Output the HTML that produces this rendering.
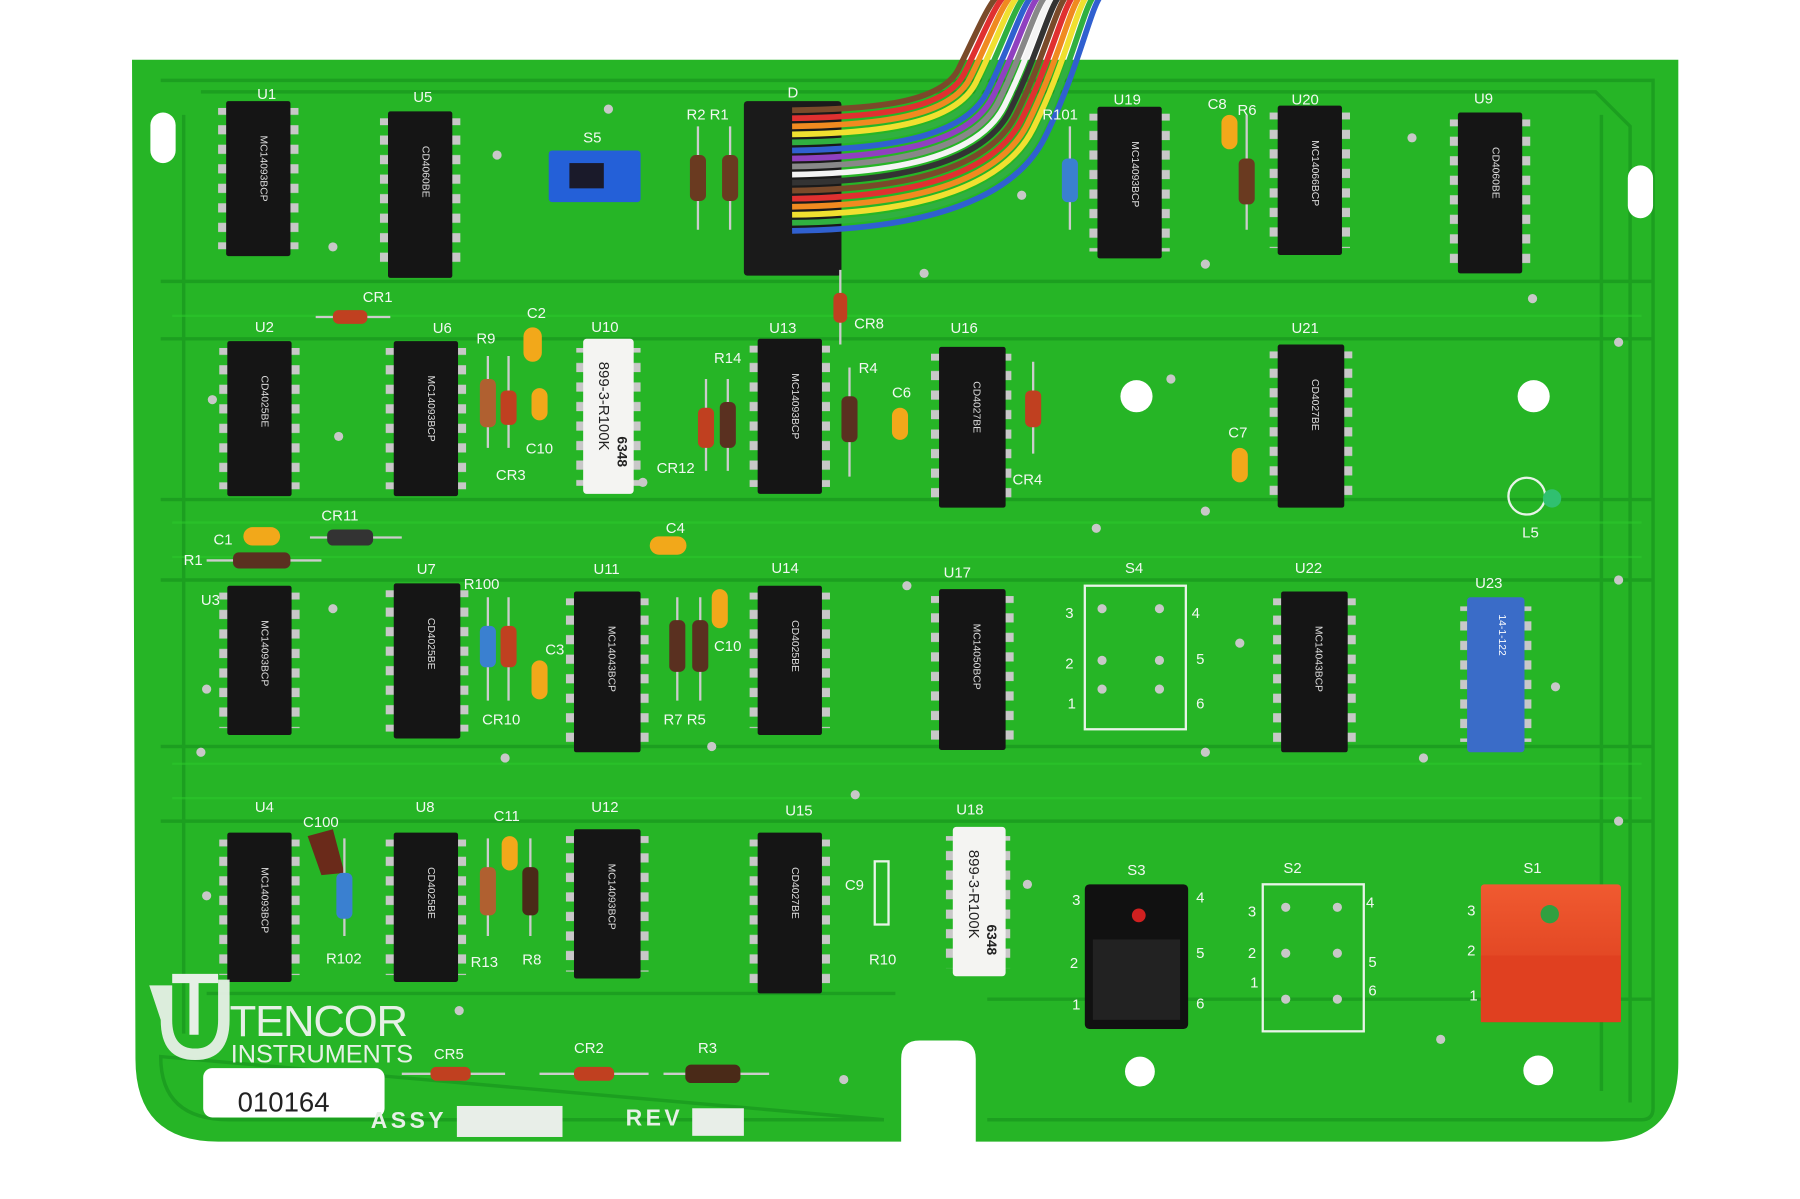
<!DOCTYPE html>
<html><head><meta charset="utf-8"><style>
html,body{margin:0;padding:0;background:#fff;width:1800px;height:1199px;overflow:hidden}
svg{display:block}
text{font-family:"Liberation Sans",sans-serif}
</style></head><body>
<svg width="1800" height="1199" viewBox="0 0 1568 1044" preserveAspectRatio="none" xmlns="http://www.w3.org/2000/svg">
<defs>
<pattern id="pins" patternUnits="userSpaceOnUse" width="10" height="17"><rect x="0" y="4" width="10" height="8" fill="#c8c8c8"/></pattern>
<linearGradient id="red" x1="0" x2="0" y1="0" y2="1"><stop offset="0" stop-color="#f05a30"/><stop offset="1" stop-color="#d8381a"/></linearGradient>
</defs>
<rect width="1568" height="1044" fill="#fff"/>
<!-- board -->
<path d="M115,52 H1462 V925 Q1462,994 1395,994 H850 V922 Q850,906 834,906 H801 Q785,906 785,922 V994 H190 Q118,994 118,922 Z" fill="#26b526"/>
<!-- darker traces -->
<g stroke="#1a9a1f" stroke-width="3" fill="none" opacity="0.8">
<path d="M140,70 H1440 V965 Q1440,975 1430,975 H860 M770,975 H200 Q140,975 140,920 Z"/>
<path d="M140,295 H1440 M140,505 H1440 M140,715 H1440 M140,435 H1440 M140,650 H1440 M140,245 H1440 M180,865 H780 M860,870 H1440"/>
<path d="M175,80 H1390 L1420,110 V960" />
<path d="M160,100 V900 M1395,100 V950"/>
</g>
<g stroke="#2cc82c" stroke-width="2" fill="none" opacity="0.6">
<path d="M150,275 H1430 M150,485 H1430 M150,695 H1430 M150,455 H1430 M150,665 H1430"/>
</g>
<!-- slots and holes -->
<rect x="131" y="98" width="22" height="44" rx="11" fill="#fff"/>
<rect x="1418" y="144" width="22" height="46" rx="11" fill="#fff"/>
<circle cx="990" cy="345" r="14" fill="#fff"/>
<circle cx="1336" cy="345" r="14" fill="#fff"/>
<circle cx="993" cy="933" r="13" fill="#fff"/>
<circle cx="1340" cy="932" r="13" fill="#fff"/>

<!-- chips -->
<g id="chips" font-size="9" fill="#fff">
<g transform="translate(197,88)"><rect x="-7" y="6" width="70" height="123" fill="url(#pins)"/><rect width="56" height="135" fill="#151515" rx="2"/><text transform="translate(30,30) rotate(90)" fill="#ddd">MC14093BCP</text></g>
<g transform="translate(338,97)"><rect x="-7" y="6" width="70" height="133" fill="url(#pins)"/><rect width="56" height="145" fill="#151515" rx="2"/><text transform="translate(30,30) rotate(90)" fill="#ddd">CD4060BE</text></g>
<g transform="translate(956,93)"><rect x="-7" y="6" width="70" height="120" fill="url(#pins)"/><rect width="56" height="132" fill="#151515" rx="2"/><text transform="translate(30,30) rotate(90)" fill="#ddd">MC14093BCP</text></g>
<g transform="translate(1113,92)"><rect x="-7" y="6" width="70" height="118" fill="url(#pins)"/><rect width="56" height="130" fill="#151515" rx="2"/><text transform="translate(30,30) rotate(90)" fill="#ddd">MC14066BCP</text></g>
<g transform="translate(1270,98)"><rect x="-7" y="6" width="70" height="128" fill="url(#pins)"/><rect width="56" height="140" fill="#151515" rx="2"/><text transform="translate(30,30) rotate(90)" fill="#ddd">CD4060BE</text></g>

<g transform="translate(198,297)"><rect x="-7" y="6" width="70" height="123" fill="url(#pins)"/><rect width="56" height="135" fill="#151515" rx="2"/><text transform="translate(30,30) rotate(90)" fill="#ddd">CD4025BE</text></g>
<g transform="translate(343,297)"><rect x="-7" y="6" width="70" height="123" fill="url(#pins)"/><rect width="56" height="135" fill="#151515" rx="2"/><text transform="translate(30,30) rotate(90)" fill="#ddd">MC14093BCP</text></g>
<g transform="translate(660,295)"><rect x="-7" y="6" width="70" height="123" fill="url(#pins)"/><rect width="56" height="135" fill="#151515" rx="2"/><text transform="translate(30,30) rotate(90)" fill="#ddd">MC14093BCP</text></g>
<g transform="translate(818,302)"><rect x="-7" y="6" width="70" height="128" fill="url(#pins)"/><rect width="58" height="140" fill="#151515" rx="2"/><text transform="translate(30,30) rotate(90)" fill="#ddd">CD4027BE</text></g>
<g transform="translate(1113,300)"><rect x="-7" y="6" width="72" height="130" fill="url(#pins)"/><rect width="58" height="142" fill="#151515" rx="2"/><text transform="translate(30,30) rotate(90)" fill="#ddd">CD4027BE</text></g>

<g transform="translate(198,510)"><rect x="-7" y="6" width="70" height="118" fill="url(#pins)"/><rect width="56" height="130" fill="#151515" rx="2"/><text transform="translate(30,30) rotate(90)" fill="#ddd">MC14093BCP</text></g>
<g transform="translate(343,508)"><rect x="-7" y="6" width="72" height="123" fill="url(#pins)"/><rect width="58" height="135" fill="#151515" rx="2"/><text transform="translate(30,30) rotate(90)" fill="#ddd">CD4025BE</text></g>
<g transform="translate(500,515)"><rect x="-7" y="6" width="72" height="128" fill="url(#pins)"/><rect width="58" height="140" fill="#151515" rx="2"/><text transform="translate(30,30) rotate(90)" fill="#ddd">MC14043BCP</text></g>
<g transform="translate(660,510)"><rect x="-7" y="6" width="70" height="118" fill="url(#pins)"/><rect width="56" height="130" fill="#151515" rx="2"/><text transform="translate(30,30) rotate(90)" fill="#ddd">CD4025BE</text></g>
<g transform="translate(818,513)"><rect x="-7" y="6" width="72" height="128" fill="url(#pins)"/><rect width="58" height="140" fill="#151515" rx="2"/><text transform="translate(30,30) rotate(90)" fill="#ddd">MC14050BCP</text></g>
<g transform="translate(1116,515)"><rect x="-7" y="6" width="72" height="128" fill="url(#pins)"/><rect width="58" height="140" fill="#151515" rx="2"/><text transform="translate(30,30) rotate(90)" fill="#ddd">MC14043BCP</text></g>

<g transform="translate(198,725)"><rect x="-7" y="6" width="70" height="118" fill="url(#pins)"/><rect width="56" height="130" fill="#151515" rx="2"/><text transform="translate(30,30) rotate(90)" fill="#ddd">MC14093BCP</text></g>
<g transform="translate(343,725)"><rect x="-7" y="6" width="70" height="118" fill="url(#pins)"/><rect width="56" height="130" fill="#151515" rx="2"/><text transform="translate(30,30) rotate(90)" fill="#ddd">CD4025BE</text></g>
<g transform="translate(500,722)"><rect x="-7" y="6" width="72" height="118" fill="url(#pins)"/><rect width="58" height="130" fill="#151515" rx="2"/><text transform="translate(30,30) rotate(90)" fill="#ddd">MC14093BCP</text></g>
<g transform="translate(660,725)"><rect x="-7" y="6" width="70" height="128" fill="url(#pins)"/><rect width="56" height="140" fill="#151515" rx="2"/><text transform="translate(30,30) rotate(90)" fill="#ddd">CD4027BE</text></g>
</g>
<!-- white SIPs -->
<g transform="translate(508,295)"><rect x="-6" y="8" width="56" height="120" fill="url(#pins)"/><rect width="44" height="135" fill="#f4f4f2" rx="3"/><text transform="translate(14,20) rotate(90)" font-size="13" fill="#222">899-3-R100K</text><text transform="translate(30,85) rotate(90)" font-size="12" fill="#222" font-weight="bold">6348</text></g>
<g transform="translate(830,720)"><rect x="-6" y="8" width="56" height="115" fill="url(#pins)"/><rect width="46" height="130" fill="#f4f4f2" rx="3"/><text transform="translate(14,20) rotate(90)" font-size="13" fill="#222">899-3-R100K</text><text transform="translate(30,85) rotate(90)" font-size="12" fill="#222" font-weight="bold">6348</text></g>
<!-- blue U23 -->
<g transform="translate(1278,520)"><rect x="-6" y="8" width="62" height="118" fill="url(#pins)"/><rect width="50" height="135" fill="#3a6cc8" rx="3"/><text transform="translate(28,15) rotate(90)" font-size="9" fill="#fff">14-1-122</text></g>
<!-- connector D -->
<rect x="648" y="88" width="85" height="152" fill="#1a1a1a" rx="3"/>
<!-- ribbon cable -->
<g fill="none" stroke-width="5">
<path d="M690,96 C760,95 820,90 835,60 S860,5 870,-5" stroke="#7a4a2a"/>
<path d="M690,103 C762,102 824,96 840,64 S866,5 876,-5" stroke="#e03030"/>
<path d="M690,110 C764,109 828,102 845,68 S872,5 882,-5" stroke="#f08a20"/>
<path d="M690,117 C766,116 832,108 850,72 S878,5 888,-5" stroke="#f0e030"/>
<path d="M690,124 C768,123 836,114 855,76 S884,5 894,-5" stroke="#30b040"/>
<path d="M690,131 C770,130 840,120 860,80 S890,5 900,-5" stroke="#3060d0"/>
<path d="M690,138 C772,137 844,126 865,84 S896,5 906,-5" stroke="#9040c0"/>
<path d="M690,145 C774,144 848,132 870,88 S902,5 912,-5" stroke="#888"/>
<path d="M690,152 C776,151 852,138 875,92 S908,5 918,-5" stroke="#f4f4f4"/>
<path d="M690,159 C778,158 856,144 880,96 S914,5 924,-5" stroke="#333"/>
<path d="M690,166 C780,165 860,150 885,100 S920,5 930,-5" stroke="#7a4a2a"/>
<path d="M690,173 C782,172 864,156 890,104 S926,5 936,-5" stroke="#e03030"/>
<path d="M690,180 C784,179 868,162 895,108 S932,5 942,-5" stroke="#f08a20"/>
<path d="M690,187 C786,186 872,168 900,112 S938,5 948,-5" stroke="#f0e030"/>
<path d="M690,194 C788,193 876,174 905,116 S944,5 954,-5" stroke="#30b040"/>
<path d="M690,201 C790,200 880,180 910,120 S950,5 960,-5" stroke="#3060d0"/>
</g>
<!-- S5 -->
<rect x="478" y="131" width="80" height="45" fill="#2460d8" rx="3"/><rect x="496" y="142" width="30" height="22" fill="#1a1a2a"/>
<!-- S4, S2 outlines -->
<rect x="945" y="510" width="88" height="125" fill="none" stroke="#e8f4e8" stroke-width="2"/>
<rect x="1100" y="770" width="88" height="128" fill="none" stroke="#e8f4e8" stroke-width="2"/>
<g fill="#c8c8c8"><circle cx="960" cy="530" r="4"/><circle cx="1010" cy="530" r="4"/><circle cx="960" cy="575" r="4"/><circle cx="1010" cy="575" r="4"/><circle cx="960" cy="600" r="4"/><circle cx="1010" cy="600" r="4"/><circle cx="1120" cy="790" r="4"/><circle cx="1165" cy="790" r="4"/><circle cx="1120" cy="830" r="4"/><circle cx="1165" cy="830" r="4"/><circle cx="1120" cy="870" r="4"/><circle cx="1165" cy="870" r="4"/></g>
<!-- S3 -->
<rect x="945" y="770" width="90" height="126" fill="#111" rx="4"/><rect x="952" y="818" width="76" height="70" fill="#222"/><circle cx="992" cy="797" r="6" fill="#d02020"/>
<!-- S1 -->
<rect x="1290" y="770" width="122" height="120" fill="url(#red)" rx="3"/><rect x="1290" y="832" width="122" height="58" fill="#e04020"/><circle cx="1350" cy="796" r="8" fill="#30a040"/>
<!-- LED L5 -->
<circle cx="1330" cy="432" r="16" fill="none" stroke="#e8f4e8" stroke-width="2"/><circle cx="1352" cy="434" r="8" fill="#30c070"/>
<!-- capacitors (yellow) -->
<g fill="#f2a81a">
<rect x="456" y="285" width="16" height="30" rx="8"/><rect x="463" y="338" width="14" height="28" rx="7"/><rect x="777" y="355" width="14" height="28" rx="7"/><rect x="1073" y="390" width="14" height="30" rx="7"/><rect x="1064" y="100" width="14" height="30" rx="7"/><rect x="212" y="459" width="32" height="16" rx="8"/><rect x="566" y="467" width="32" height="16" rx="8"/><rect x="620" y="513" width="14" height="34" rx="7"/><rect x="463" y="575" width="14" height="34" rx="7"/><rect x="437" y="728" width="14" height="30" rx="7"/>
</g>
<path d="M268,728 L290,722 L300,760 L280,762 Z" fill="#6a2a1a"/>
<!-- resistors/diodes -->
<g stroke="#ccc" stroke-width="2">
<line x1="608" y1="110" x2="608" y2="200"/><line x1="636" y1="110" x2="636" y2="200"/><line x1="425" y1="310" x2="425" y2="390"/><line x1="443" y1="310" x2="443" y2="390"/><line x1="740" y1="320" x2="740" y2="415"/><line x1="615" y1="330" x2="615" y2="410"/><line x1="634" y1="330" x2="634" y2="410"/><line x1="932" y1="110" x2="932" y2="200"/><line x1="1086" y1="100" x2="1086" y2="200"/><line x1="180" y1="488" x2="280" y2="488"/><line x1="270" y1="468" x2="350" y2="468"/><line x1="590" y1="520" x2="590" y2="610"/><line x1="610" y1="520" x2="610" y2="610"/><line x1="425" y1="520" x2="425" y2="610"/><line x1="443" y1="520" x2="443" y2="610"/><line x1="300" y1="730" x2="300" y2="815"/><line x1="425" y1="730" x2="425" y2="815"/><line x1="462" y1="730" x2="462" y2="815"/><line x1="275" y1="276" x2="340" y2="276"/><line x1="900" y1="315" x2="900" y2="395"/><line x1="732" y1="235" x2="732" y2="300"/><line x1="350" y1="935" x2="440" y2="935"/><line x1="470" y1="935" x2="565" y2="935"/><line x1="578" y1="935" x2="670" y2="935"/>
</g>
<g>
<rect x="601" y="135" width="14" height="40" rx="5" fill="#6a3a20"/><rect x="629" y="135" width="14" height="40" rx="5" fill="#6a3a20"/>
<rect x="418" y="330" width="14" height="42" rx="5" fill="#b06030"/><rect x="436" y="340" width="14" height="30" rx="5" fill="#c04020"/>
<rect x="733" y="345" width="14" height="40" rx="5" fill="#5a3020"/><rect x="608" y="355" width="14" height="35" rx="5" fill="#c04020"/><rect x="627" y="350" width="14" height="40" rx="5" fill="#5a3020"/>
<rect x="925" y="138" width="14" height="38" rx="5" fill="#3a80d0"/><rect x="1079" y="138" width="14" height="40" rx="5" fill="#6a3a20"/>
<rect x="203" y="481" width="50" height="14" rx="5" fill="#5a3020"/><rect x="285" y="461" width="40" height="14" rx="5" fill="#333"/>
<rect x="583" y="540" width="14" height="45" rx="5" fill="#5a3020"/><rect x="603" y="540" width="14" height="45" rx="5" fill="#5a3020"/>
<rect x="418" y="545" width="14" height="36" rx="5" fill="#3a80d0"/><rect x="436" y="545" width="14" height="36" rx="5" fill="#c04020"/>
<rect x="293" y="760" width="14" height="40" rx="5" fill="#3a80d0"/><rect x="418" y="755" width="14" height="42" rx="5" fill="#b06030"/><rect x="455" y="755" width="14" height="42" rx="5" fill="#4a2a18"/>
<rect x="290" y="270" width="30" height="12" rx="5" fill="#c04020"/><rect x="893" y="340" width="14" height="32" rx="5" fill="#c04020"/><rect x="726" y="255" width="12" height="26" rx="5" fill="#c04020"/>
<rect x="375" y="929" width="35" height="12" rx="5" fill="#c04020"/><rect x="500" y="929" width="35" height="12" rx="5" fill="#c04020"/><rect x="597" y="927" width="48" height="16" rx="5" fill="#4a2a18"/>
<rect x="762" y="750" width="12" height="55" fill="none" stroke="#e8f4e8" stroke-width="2"/>
</g>
<!-- solder pads -->
<g fill="#c8c8c8">
<circle cx="290" cy="215" r="4"/><circle cx="433" cy="135" r="4"/><circle cx="530" cy="95" r="4"/><circle cx="805" cy="238" r="4"/><circle cx="890" cy="170" r="4"/><circle cx="1050" cy="230" r="4"/><circle cx="1230" cy="120" r="4"/><circle cx="1335" cy="260" r="4"/><circle cx="1410" cy="298" r="4"/><circle cx="185" cy="348" r="4"/><circle cx="295" cy="380" r="4"/><circle cx="560" cy="420" r="4"/><circle cx="955" cy="460" r="4"/><circle cx="1050" cy="445" r="4"/><circle cx="1020" cy="330" r="4"/><circle cx="1410" cy="505" r="4"/><circle cx="180" cy="600" r="4"/><circle cx="290" cy="530" r="4"/><circle cx="440" cy="660" r="4"/><circle cx="790" cy="510" r="4"/><circle cx="1080" cy="560" r="4"/><circle cx="1355" cy="598" r="4"/><circle cx="1410" cy="715" r="4"/><circle cx="180" cy="780" r="4"/><circle cx="745" cy="692" r="4"/><circle cx="895" cy="770" r="4"/><circle cx="1255" cy="905" r="4"/><circle cx="735" cy="940" r="4"/><circle cx="400" cy="880" r="4"/><circle cx="1240" cy="660" r="4"/><circle cx="1050" cy="655" r="4"/><circle cx="175" cy="655" r="4"/><circle cx="620" cy="650" r="4"/>
</g>
<!-- labels -->
<g fill="#f2f8f2" font-size="13">
<text x="224" y="86">U1</text><text x="360" y="89">U5</text><text x="508" y="124">S5</text><text x="598" y="104">R2 R1</text><text x="686" y="85">D</text><text x="908" y="104">R101</text><text x="970" y="91">U19</text><text x="1052" y="95">C8</text><text x="1078" y="100">R6</text><text x="1125" y="91">U20</text><text x="1284" y="90">U9</text>
<text x="316" y="263">CR1</text><text x="222" y="289">U2</text><text x="377" y="290">U6</text><text x="415" y="299">R9</text><text x="459" y="277">C2</text><text x="515" y="289">U10</text><text x="670" y="290">U13</text><text x="744" y="286">CR8</text><text x="828" y="290">U16</text><text x="1125" y="290">U21</text><text x="622" y="316">R14</text><text x="748" y="325">R4</text><text x="777" y="346">C6</text><text x="458" y="395">C10</text><text x="432" y="418">CR3</text><text x="572" y="412">CR12</text><text x="882" y="422">CR4</text><text x="1070" y="381">C7</text><text x="1326" y="468">L5</text>
<text x="280" y="453">CR11</text><text x="186" y="474">C1</text><text x="160" y="492">R1</text><text x="580" y="464">C4</text><text x="175" y="527">U3</text><text x="363" y="500">U7</text><text x="404" y="513">R100</text><text x="517" y="500">U11</text><text x="672" y="499">U14</text><text x="822" y="503">U17</text><text x="980" y="499">S4</text><text x="1128" y="499">U22</text><text x="1285" y="512">U23</text><text x="475" y="570">C3</text><text x="622" y="567">C10</text><text x="420" y="631">CR10</text><text x="578" y="631">R7 R5</text>
<text x="928" y="538">3</text><text x="1038" y="538">4</text><text x="928" y="582">2</text><text x="1042" y="578">5</text><text x="930" y="617">1</text><text x="1042" y="617">6</text>
<text x="222" y="707">U4</text><text x="264" y="720">C100</text><text x="362" y="707">U8</text><text x="430" y="715">C11</text><text x="515" y="707">U12</text><text x="684" y="710">U15</text><text x="833" y="709">U18</text><text x="736" y="775">C9</text><text x="757" y="840">R10</text><text x="284" y="839">R102</text><text x="410" y="842">R13</text><text x="455" y="840">R8</text>
<text x="982" y="762">S3</text><text x="934" y="788">3</text><text x="1042" y="786">4</text><text x="932" y="843">2</text><text x="1042" y="834">5</text><text x="934" y="879">1</text><text x="1042" y="878">6</text>
<text x="1118" y="760">S2</text><text x="1087" y="798">3</text><text x="1190" y="790">4</text><text x="1087" y="834">2</text><text x="1192" y="842">5</text><text x="1089" y="860">1</text><text x="1192" y="867">6</text>
<text x="1327" y="760">S1</text><text x="1278" y="797">3</text><text x="1278" y="832">2</text><text x="1280" y="871">1</text>
<text x="378" y="922">CR5</text><text x="500" y="917">CR2</text><text x="608" y="917">R3</text>
</g>
<!-- Tencor logo -->
<g fill="#e6f0e6">
<path d="M130,858 h20 v30 q0,25 20,25 q20,0 20,-25 v-35 h10 v35 q0,35 -30,35 q-30,0 -30,-35 z" opacity="0.95"/>
<path d="M150,848 h40 v8 h-40 z M165,856 h8 v45 h-8 z"/>
<text x="200" y="902" font-size="38" fill="#e6f0e6" letter-spacing="-1">TENCOR</text>
<text x="201" y="925" font-size="22" fill="#e6f0e6" font-weight="normal">INSTRUMENTS</text>
</g>
<rect x="177" y="930" width="158" height="43" rx="8" fill="#fff"/>
<text x="207" y="968" font-size="24" fill="#222">010164</text>
<text x="323" y="982" font-size="20" font-weight="bold" fill="#e6f0e6" letter-spacing="3">ASSY</text>
<rect x="398" y="963" width="92" height="27" fill="#e8eee8"/>
<text x="545" y="980" font-size="20" font-weight="bold" fill="#e6f0e6" letter-spacing="3">REV</text>
<rect x="603" y="965" width="45" height="24" fill="#e8eee8"/>
</svg>
</body></html>
